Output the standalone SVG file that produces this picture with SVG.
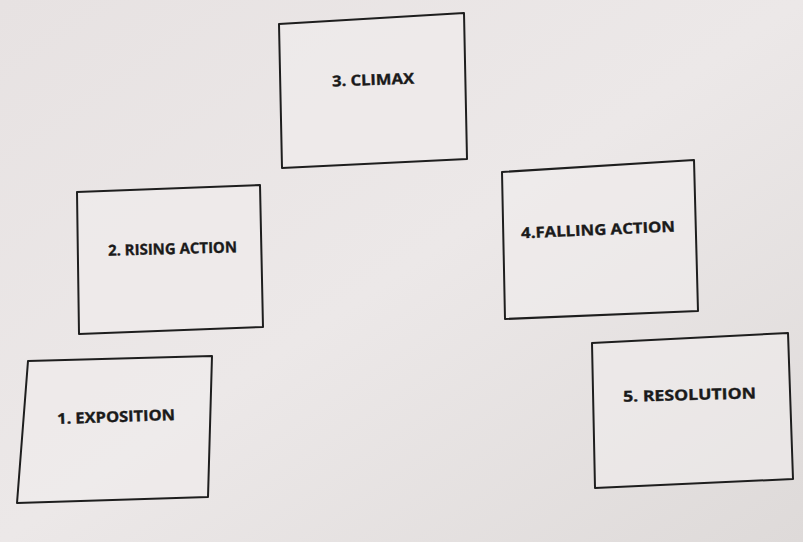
<svg xmlns="http://www.w3.org/2000/svg" width="803" height="542" viewBox="0 0 803 542">
<defs>
<linearGradient id="paper" x1="0" y1="0" x2="1" y2="1">
<stop offset="0" stop-color="#e7e2e2"/>
<stop offset="0.5" stop-color="#ece8e8"/>
<stop offset="1" stop-color="#dedad9"/>
</linearGradient>
<style>
.box{fill:#f0ecec;fill-opacity:0.6;stroke:#1e1e1e;stroke-width:2;stroke-linejoin:round}
.lbl{font-family:"Open Sans","Liberation Sans",sans-serif;font-weight:bold;font-size:15px;fill:#1a1a1a;stroke:#1a1a1a;stroke-width:0.35}
</style>
</defs>
<rect x="0" y="0" width="803" height="542" fill="url(#paper)"/>
<g id="connectors"/>
<g id="exposition">
<polygon class="box" points="28,361 212,356 208,497 17,503"/>
<text class="lbl" x="57" y="422" textLength="118" lengthAdjust="spacingAndGlyphs" transform="rotate(-2 116 416)">1. EXPOSITION</text>
</g>
<g id="rising-action">
<polygon class="box" points="77,192 260,185 263,327 79,334"/>
<text class="lbl" x="108" y="254" textLength="129" lengthAdjust="spacingAndGlyphs" transform="rotate(-1.5 172 248)">2. RISING ACTION</text>
</g>
<g id="climax">
<polygon class="box" points="279,24 464,13 467,159 282,168"/>
<text class="lbl" x="332" y="85" textLength="82" lengthAdjust="spacingAndGlyphs" transform="rotate(-2 373 79)">3. CLIMAX</text>
</g>
<g id="falling-action">
<polygon class="box" points="502,172 694,160 698,311 505,319"/>
<text class="lbl" x="521" y="235" textLength="154" lengthAdjust="spacingAndGlyphs" transform="rotate(-2.5 598 229)">4.FALLING ACTION</text>
</g>
<g id="resolution">
<polygon class="box" points="592,343 788,333 793,479 595,488"/>
<text class="lbl" x="623" y="400" textLength="133" lengthAdjust="spacingAndGlyphs" transform="rotate(-1.5 690 394)">5. RESOLUTION</text>
</g>
</svg>
